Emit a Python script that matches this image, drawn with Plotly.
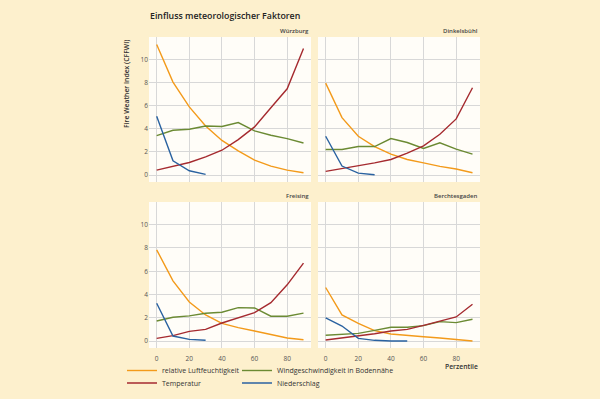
import plotly.graph_objects as go

perzentile = [0, 10, 20, 30, 40, 50, 60, 70, 80, 90]
series_names = ["relative Luftfeuchtigkeit", "Windgeschwindigkeit in Bodennähe", "Temperatur", "Niederschlag"]
colors = ["#f39a1a", "#6b8a33", "#a52a2f", "#2a62a0"]
stations = ["Würzburg", "Dinkelsbühl", "Freising", "Berchtesgaden"]

wuerzburg_rh = [11.3, 8.05, 5.9, 4.25, 3.0, 2.1, 1.3, 0.78, 0.43, 0.2]
wuerzburg_wind = [3.42, 3.88, 3.97, 4.25, 4.2, 4.54, 3.82, 3.45, 3.16, 2.78]
wuerzburg_temp = [0.43, 0.78, 1.09, 1.58, 2.15, 3.07, 4.17, 5.83, 7.47, 10.95]
wuerzburg_prec = [5.09, 1.24, 0.37, 0.06]

dinkelsbuehl_rh = [7.96, 4.97, 3.36, 2.47, 1.81, 1.35, 1.06, 0.75, 0.52, 0.2]
dinkelsbuehl_wind = [2.21, 2.21, 2.47, 2.47, 3.16, 2.82, 2.3, 2.79, 2.24, 1.81]
dinkelsbuehl_temp = [0.32, 0.55, 0.83, 1.06, 1.35, 1.9, 2.53, 3.53, 4.86, 7.56]
dinkelsbuehl_prec = [3.36, 0.78, 0.17, 0.03]

freising_rh = [7.84, 5.17, 3.36, 2.24, 1.52, 1.15, 0.86, 0.55, 0.26, 0.11]
freising_wind = [1.72, 2.04, 2.16, 2.39, 2.47, 2.87, 2.84, 2.13, 2.13, 2.4]
freising_temp = [0.23, 0.46, 0.83, 1.0, 1.55, 2.01, 2.44, 3.3, 4.83, 6.7]
freising_prec = [3.25, 0.43, 0.14, 0.06]

berchtesgaden_rh = [4.6, 2.24, 1.52, 0.89, 0.6, 0.46, 0.37, 0.26, 0.14, 0.0]
berchtesgaden_wind = [0.49, 0.57, 0.66, 0.92, 1.18, 1.18, 1.32, 1.67, 1.58, 1.87]
berchtesgaden_temp = [0.09, 0.26, 0.46, 0.63, 0.86, 1.0, 1.35, 1.72, 2.07, 3.16]
berchtesgaden_prec = [1.98, 1.29, 0.23, 0.06, 0.0, 0.0]

y_ticks = [0, 2, 4, 6, 8, 10]
x_ticks = [0, 20, 40, 60, 80]

data = {
    "Würzburg": [wuerzburg_rh, wuerzburg_wind, wuerzburg_temp, wuerzburg_prec],
    "Dinkelsbühl": [dinkelsbuehl_rh, dinkelsbuehl_wind, dinkelsbuehl_temp, dinkelsbuehl_prec],
    "Freising": [freising_rh, freising_wind, freising_temp, freising_prec],
    "Berchtesgaden": [berchtesgaden_rh, berchtesgaden_wind, berchtesgaden_temp, berchtesgaden_prec],
}

W, H = 600, 399
BG = "#fdf0cd"
FONT = "Open Sans"
TXT = "#333333"

# panel pixel boxes (left, top, right, bottom)
boxes = [(149, 37, 311, 182), (318, 37, 480, 182), (149, 202, 311, 348), (318, 202, 480, 348)]
legend_names = ["legend", "legend2", "legend3", "legend4"]
# legend text start positions (x px, y px)
legend_pos = [(162, 370.5), (277, 370.5), (162, 383), (277, 383)]

fig = go.Figure()
layout = dict(width=W, height=H, paper_bgcolor=BG, plot_bgcolor="#fffdf8",
              margin=dict(l=0, r=0, t=0, b=0, autoexpand=False), font=dict(family=FONT, color=TXT))
annotations = []
for i, st in enumerate(stations):
    l, t, r, b = boxes[i]
    xa = "xaxis" if i == 0 else f"xaxis{i+1}"
    ya = "yaxis" if i == 0 else f"yaxis{i+1}"
    xr = "x" if i == 0 else f"x{i+1}"
    yr = "y" if i == 0 else f"y{i+1}"
    bottom = i >= 2
    left = i % 2 == 0
    layout[xa] = dict(domain=[l / W, r / W], anchor=yr, range=[-4.7, 94.6], tickvals=x_ticks,
                      showticklabels=bottom, showgrid=True, gridcolor="#d8d8d8", gridwidth=1.2,
                      zeroline=False, ticks="outside" if bottom else "", ticklen=4, tickcolor="rgba(0,0,0,0)",
                      tickfont=dict(size=6.5, color="#555555"), showline=False, fixedrange=True)
    layout[ya] = dict(domain=[1 - b / H, 1 - t / H], anchor=xr, range=[-0.6, 11.95], tickvals=y_ticks,
                      showticklabels=left, showgrid=True, gridcolor="#d8d8d8", gridwidth=1.2,
                      zeroline=False, ticks="", tickfont=dict(size=6.5, color="#555555"), showline=False,
                      fixedrange=True)
    for k, vals in enumerate(data[st]):
        fig.add_trace(go.Scatter(
            x=perzentile[:len(vals)], y=vals, mode="lines", name=series_names[k],
            line=dict(color=colors[k], width=1.4), xaxis=xr, yaxis=yr,
            showlegend=(i == 0), legend=legend_names[k], hoverinfo="skip"))
    annotations.append(dict(text=st, x=r / W, y=1 - (t - 6) / H, xref="paper", yref="paper",
                            xanchor="right", yanchor="middle", showarrow=False,
                            font=dict(size=6, color="#444444", weight=600)))

annotations.append(dict(text="Einfluss meteorologischer Faktoren", x=148 / W, y=1 - 15.5 / H,
                        xref="paper", yref="paper", xanchor="left", yanchor="middle", showarrow=False,
                        font=dict(size=8.8, color="#222222", weight=600)))
annotations.append(dict(text="Fire Weather Index (CFFWI)", x=126 / W, y=1 - 84 / H, textangle=-90,
                        xref="paper", yref="paper", xanchor="center", yanchor="middle", showarrow=False,
                        font=dict(size=6.8, color=TXT, weight=600)))
annotations.append(dict(text="Perzentile", x=480 / W, y=1 - 366 / H, xref="paper", yref="paper",
                        xanchor="right", yanchor="middle", showarrow=False,
                        font=dict(size=6.8, color=TXT, weight=600)))

for k, ln in enumerate(legend_names):
    px, py = legend_pos[k]
    layout[ln] = dict(orientation="h", xanchor="left", yanchor="middle", bgcolor="rgba(0,0,0,0)",
                      x=(px - 40) / W, y=1 - py / H,
                      font=dict(size=7, color=TXT, family=FONT), itemwidth=30)
layout["annotations"] = annotations
fig.update_layout(**layout)
fig.write_html("out.html", config={"displayModeBar": False},
               post_script="document.body.style.margin='0';document.body.style.background='" + BG + "';")
